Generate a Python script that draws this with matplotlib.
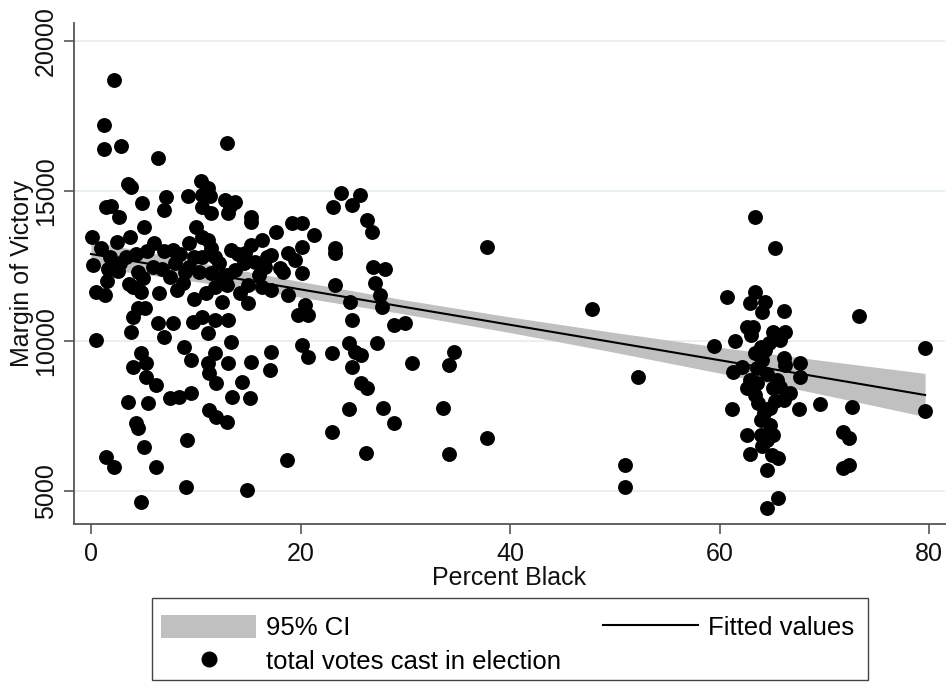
import numpy as np
import matplotlib
matplotlib.use("Agg")
import matplotlib.pyplot as plt
from matplotlib.patches import Patch, Rectangle
from matplotlib.lines import Line2D

plt.rcParams['font.family'] = ['Liberation Sans', 'DejaVu Sans']

# percent black / margin of victory
pct_black = [
    2.2, 1.2, 1.2, 2.9, 6.4, 13.0, 3.5, 3.8, 10.5, 11.2,
    1.4, 1.9, 4.9, 7.2, 7.0, 9.3, 10.6, 11.4, 12.8, 13.7,
    13.3, 10.6, 11.5, 13.1, 2.7, 15.3, 15.3, 5.1, 10.0, 17.7,
    19.2, 20.1, 21.3, 0.1, 3.7, 10.6, 11.2, 16.3, 15.3, 20.1,
    6.0, 9.4, 7.8, 13.4, 17.2, 18.8, 19.5, 11.8, 10.6, 14.7,
    15.7, 16.6, 18.0, 20.1, 13.7, 11.5, 12.5, 11.8, 13.0, 15.0,
    16.3, 17.2, 18.8, 15.0, 20.4, 19.8, 20.7, 10.6, 11.8, 13.1,
    11.2, 13.4, 20.1, 17.2, 11.8, 15.3, 20.7, 13.1, 11.2,
    0.2, 1.6, 2.6, 3.3, 5.9, 7.5, 8.75, 9.4, 4.0, 4.8,
    0.5, 1.3, 6.5, 4.5, 5.2, 4.0, 3.8, 6.4, 7.8, 7.0,
    9.7, 0.5, 8.9, 4.8, 9.5, 4.0,
    5.25, 5.25, 6.2, 11.3, 11.9, 7.5, 8.4, 9.5, 3.5, 5.4,
    11.3, 11.9, 13.0, 13.5, 4.3, 4.45, 9.2, 5.1, 1.4, 2.2,
    6.2, 9.1, 4.8, 17.1, 14.4, 15.2, 18.7, 14.9,
    1.0, 1.8, 2.5, 2.8, 4.3, 4.5, 5.3, 5.0, 6.8, 7.0,
    8.0, 8.5, 9.0, 9.8, 10.3, 11.5, 12.2, 13.0, 14.0, 14.6,
    16.8, 18.3, 16.0, 1.5, 3.6, 8.2, 9.8, 11.0, 12.5, 14.2,
    23.9, 25.7, 23.1, 24.9, 26.3, 26.8, 23.3, 23.3, 37.8, 26.95,
    28.1, 23.3, 27.1, 27.6, 27.75, 24.7, 24.9, 28.9, 30.0, 47.8,
    24.6, 27.3, 23.0, 25.2, 25.8, 24.9, 30.6, 34.6, 34.2, 25.8,
    26.3, 24.6, 27.9, 28.9, 33.6, 23.0, 37.8, 26.2, 34.2, 51.0,
    51.0, 52.2,
    63.4, 65.3, 60.7, 63.4, 62.9, 64.3, 64.0, 66.1, 73.25, 62.6,
    63.2, 65.1, 66.25, 59.5, 61.5, 79.6, 63.9, 64.7, 65.8, 66.1,
    66.25, 67.7, 63.4, 64.0, 62.1, 61.3, 67.7, 62.9, 63.55, 62.6,
    65.5, 65.1, 65.8, 66.7, 66.1, 63.4, 63.7, 64.8, 64.2, 63.9,
    61.2, 67.6, 69.6, 72.6, 79.6, 62.6, 63.9, 65.1, 64.5, 62.9,
    65.0, 65.6, 64.5, 71.8, 72.3, 71.8, 72.3, 65.6, 64.5,
    63.0, 64.3, 63.6, 64.5, 65.3, 64.8, 64.0,
]
margin = [
    18700, 17200, 16400, 16500, 16100, 16600, 15250, 15150, 15350, 15100,
    14480, 14500, 14590, 14810, 14370, 14830, 14870, 14830, 14700, 14640,
    14500, 14480, 14260, 14260, 14140, 14140, 13980, 13810, 13810, 13640,
    13920, 13920, 13530, 13480, 13480, 13480, 13370, 13370, 13200, 13140,
    13260, 13260, 13030, 13030, 12870, 12920, 12700, 12810, 12810, 12920,
    12640, 12480, 12420, 12260, 12370, 12260, 12140, 11810, 11870, 11870,
    11810, 11700, 11530, 11260, 11200, 10870, 10870, 10810, 10700, 10700,
    10260, 9980, 9870, 9640, 9590, 9310, 9480, 9260, 9260,
    12530, 12400, 12350, 12810, 12480, 12140, 11920, 12480, 11810, 11640,
    11640, 11530, 11590, 11090, 11090, 10810, 10310, 10590, 10590, 10140,
    10640, 10030, 9810, 9590, 9370, 9140,
    9260, 8810, 8530, 8920, 8590, 8090, 8140, 8260, 7980, 7920,
    7700, 7480, 7310, 8140, 7260, 7090, 6700, 6480, 6140, 5810,
    5810, 5140, 4640, 9030, 8640, 8090, 6030, 5030,
    13100, 12800, 13300, 12600, 12900, 12300, 13000, 12100, 12400, 13000,
    12600, 12900, 12300, 12800, 12300, 13100, 12600, 12200, 12900, 12600,
    12800, 12300, 12200, 12000, 11900, 11700, 11400, 11600, 11300, 11600,
    14920, 14870, 14480, 14530, 14030, 13640, 13090, 12920, 13140, 12480,
    12390, 11870, 11920, 11530, 11140, 11310, 10700, 10530, 10610, 11060,
    9940, 9920, 9590, 9640, 9530, 9140, 9280, 9640, 9200, 8590,
    8420, 7720, 7760, 7260, 7760, 6980, 6760, 6260, 6230, 5870,
    5140, 8800,
    14140, 13090, 11480, 11640, 11260, 11310, 10980, 11010, 10830, 10480,
    10480, 10310, 10310, 9830, 10010, 9780, 9810, 9920, 10030, 9420,
    9200, 9260, 9590, 9370, 9140, 8980, 8810, 8700, 8590, 8420,
    8700, 8420, 8480, 8260, 8030, 8200, 7920, 7760, 7590, 7370,
    7720, 7720, 7890, 7810, 7670, 6870, 6870, 6870, 6700, 6220,
    6200, 6090, 5700, 6980, 6760, 5760, 5870, 4760, 4420,
    10200, 9700, 9100, 8900, 8000, 7200, 6500,
]

# fitted line and 95% CI band
ci_x = [0, 10, 20, 30, 40, 50, 60, 70, 79.6]
fit_y = [12900, 12310, 11720, 11130, 10540, 9950, 9360, 8770, 8200]
ci_half = [430, 330, 260, 235, 260, 330, 430, 570, 720]

x = np.array(pct_black)
y = np.array(margin)
cx = np.array(ci_x)
fy = np.array(fit_y)
hw = np.array(ci_half)

fig = plt.figure(figsize=(9.46, 6.87), dpi=100)
ax = fig.add_axes([74 / 946, 1 - 524 / 687, 871 / 946, 501 / 687])

ax.fill_between(cx, fy - hw, fy + hw, color='#c0c0c0', lw=0, zorder=2)
ax.plot(cx, fy, color='black', lw=1.5, zorder=3)
ax.scatter(x, y, s=115, color='black', lw=0, zorder=4)

ax.set_xlim(-1.62, 81.5)
ax.set_ylim(3900, 20600)
ax.set_xticks([0, 20, 40, 60, 80])
ax.set_yticks([5000, 10000, 15000, 20000])
ax.grid(axis='y', color='#e4eff0', lw=1.3, zorder=0)
ax.set_axisbelow(True)

for side in ['top', 'right']:
    ax.spines[side].set_visible(False)
for side in ['left', 'bottom']:
    ax.spines[side].set_color('#555555')
    ax.spines[side].set_linewidth(1.3)

ax.tick_params(length=7, width=1.2, color='#555555', labelsize=18, labelcolor='#111111')
ax.tick_params(axis='x', pad=6)
ax.tick_params(axis='y', pad=4.5)
for lab in ax.get_yticklabels():
    lab.set_rotation(90)
    lab.set_va('center')

ax.set_xlabel('Percent Black', fontsize=18, color='#111111', labelpad=0)
ax.set_ylabel('Margin of Victory', fontsize=18, color='#111111', labelpad=0)

# legend box (Stata style) and its contents
fig.patches.append(Rectangle((152 / 946, 1 - 680 / 687), 716 / 946, 82 / 687,
                             transform=fig.transFigure, fill=False,
                             edgecolor='#444444', lw=1.0))
handles = [
    Patch(facecolor='#c0c0c0', edgecolor='none'),
    Line2D([], [], marker='o', color='black', ls='none', markersize=10.5),
    Line2D([], [], color='black', lw=1.5),
]
labels = ['95% CI', 'total votes cast in election', 'Fitted values']
fig.legend(handles, labels, ncol=2, loc='upper left',
           bbox_to_anchor=(161 / 946, 1 - 615 / 687),
           fontsize=18.5, frameon=False, handlelength=3.7, handleheight=1.0,
           handletextpad=0.4, columnspacing=1.62, labelspacing=0.32,
           borderpad=0, borderaxespad=0)

fig.savefig('out.png', dpi=100)
